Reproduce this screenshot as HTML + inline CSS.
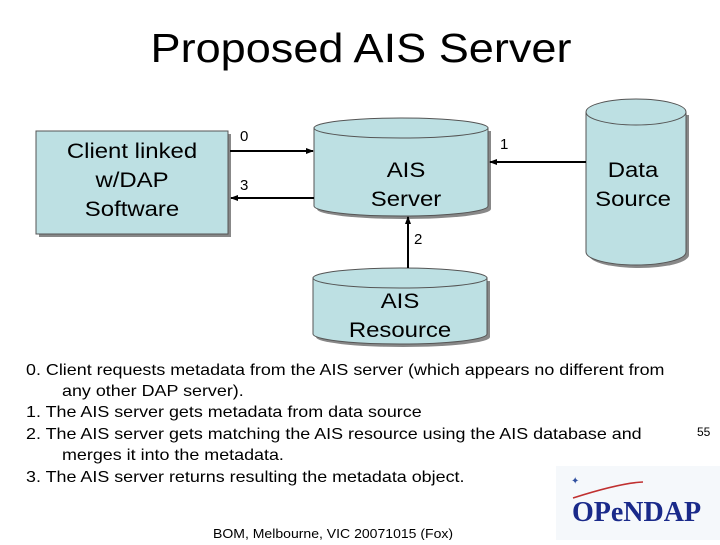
<!DOCTYPE html>
<html><head><style>
body{margin:0;width:720px;height:540px;background:#fff;overflow:hidden;font-family:"Liberation Sans",sans-serif;}
</style></head><body>
<svg width="720" height="540" viewBox="0 0 720 540" xmlns="http://www.w3.org/2000/svg" font-family="Liberation Sans, sans-serif">
<defs><marker id="a" markerWidth="8" markerHeight="8" refX="7" refY="4" orient="auto" markerUnits="userSpaceOnUse"><path d="M0,1 L8,4 L0,7z" fill="#000"/></marker></defs>
<text transform="matrix(1.1 0 0 1 361 62)" font-size="41" text-anchor="middle">Proposed AIS Server</text>
<!-- client box -->
<rect x="39" y="134" width="192" height="103" fill="#888"/>
<rect x="36" y="131" width="192" height="103" fill="#bde0e3" stroke="#555"/>
<g font-size="21" text-anchor="middle">
<text transform="matrix(1.14 0 0 1 132 158)">Client linked</text>
<text transform="matrix(1.14 0 0 1 132 187)">w/DAP</text>
<text transform="matrix(1.14 0 0 1 132 216)">Software</text>
</g>
<!-- AIS server cylinder -->
<g transform="translate(3,3)" fill="#888"><path d="M314,128 v78 a87,10 0 0 0 174,0 v-78z"/></g>
<path d="M314,128 v78 a87,10 0 0 0 174,0 v-78" fill="#bde0e3" stroke="#555"/>
<ellipse cx="401" cy="128" rx="87" ry="10" fill="#bde0e3" stroke="#555"/>
<g font-size="21" text-anchor="middle">
<text transform="matrix(1.14 0 0 1 406 177)">AIS</text>
<text transform="matrix(1.14 0 0 1 406 206)">Server</text>
</g>
<!-- data source -->
<g transform="translate(3,3)" fill="#888"><path d="M586,112 v140 a50,13 0 0 0 100,0 v-140z"/></g>
<path d="M586,112 v140 a50,13 0 0 0 100,0 v-140" fill="#bde0e3" stroke="#555"/>
<ellipse cx="636" cy="112" rx="50" ry="13" fill="#bde0e3" stroke="#555"/>
<g font-size="21" text-anchor="middle">
<text transform="matrix(1.14 0 0 1 633 177)">Data</text>
<text transform="matrix(1.14 0 0 1 633 206)">Source</text>
</g>
<!-- AIS resource -->
<g transform="translate(3,3)" fill="#888"><path d="M313,278 v56 a87,10 0 0 0 174,0 v-56z"/></g>
<path d="M313,278 v56 a87,10 0 0 0 174,0 v-56" fill="#bde0e3" stroke="#555"/>
<ellipse cx="400" cy="278" rx="87" ry="10" fill="#bde0e3" stroke="#555"/>
<g font-size="21" text-anchor="middle">
<text transform="matrix(1.14 0 0 1 400 308)">AIS</text>
<text transform="matrix(1.14 0 0 1 400 337)">Resource</text>
</g>
<!-- arrows -->
<g stroke="#000" stroke-width="2">
<line x1="230" y1="151" x2="313" y2="151" marker-end="url(#a)"/>
<line x1="314" y1="198" x2="231" y2="198" marker-end="url(#a)"/>
<line x1="586" y1="162" x2="490" y2="162" marker-end="url(#a)"/>
<line x1="408" y1="268" x2="408" y2="217" marker-end="url(#a)"/>
</g>
<text x="240" y="141" font-size="15">0</text>
<text x="240" y="190" font-size="15">3</text>
<text x="500" y="149" font-size="15">1</text>
<text x="414" y="244" font-size="15">2</text>
<g font-size="16">
<text transform="matrix(1.12 0 0 1 26 375)">0. Client requests metadata from the AIS server (which appears no different from</text>
<text transform="matrix(1.12 0 0 1 62 396)">any other DAP server).</text>
<text transform="matrix(1.12 0 0 1 26 417)">1. The AIS server gets metadata from data source</text>
<text transform="matrix(1.12 0 0 1 26 439)">2. The AIS server gets matching the AIS resource using the AIS database and</text>
<text transform="matrix(1.12 0 0 1 62 460)">merges it into the metadata.</text>
<text transform="matrix(1.12 0 0 1 26 482)">3. The AIS server returns resulting the metadata object.</text>
</g>
<text x="697" y="436" font-size="12">55</text>
<text transform="matrix(1.08 0 0 1 213 538)" font-size="13">BOM, Melbourne, VIC 20071015 (Fox)</text>
<rect x="556" y="466" width="164" height="74" fill="#f5f8fb"/>
<path d="M573,498 Q620,483 643,482" stroke="#c03030" stroke-width="1.5" fill="none"/>
<text x="571" y="484" font-size="10" fill="#3050a0">✦</text>
<text x="572" y="521" font-size="28" font-weight="bold" fill="#1a2a8a" font-family="Liberation Serif, serif">OPeNDAP</text>
</svg>
</body></html>
